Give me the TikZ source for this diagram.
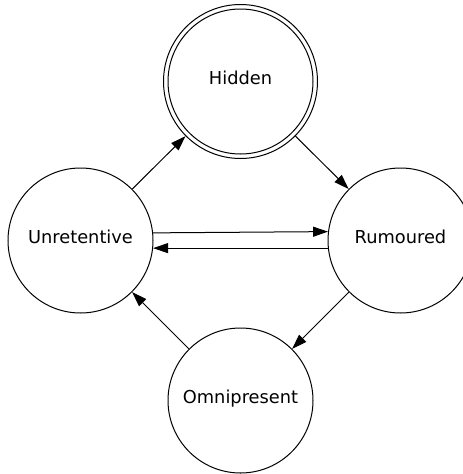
\documentclass[tikz,border=0pt]{standalone}
\usepackage{fontspec}
\setmainfont{DejaVu Sans}
\usetikzlibrary{arrows.meta}
\begin{document}
\begin{tikzpicture}[x=1pt,y=-1pt,
  state/.style={circle,draw,line width=1pt,minimum size=145pt,inner sep=0pt,
    font=\fontsize{17.8}{20}\selectfont,text height=0.729em,text depth=0.08em},
  edge/.style={line width=1pt,-{Triangle[length=15pt,width=10pt]}}]
\useasboundingbox (0,0) rectangle (463,474);
\node[state,minimum size=154pt] (H) at (240.5,81.5) {Hidden};
\draw[line width=1pt] (H.center) circle[radius=72.5pt];
\node[state] (U) at (80.5,240.5) {Unretentive};
\node[state] (R) at (400.5,240.5) {Rumoured};
\node[state] (O) at (240.5,400.5) {Omnipresent};
\draw[edge] (U) -- (H);
\draw[edge] (H) -- (R);
\draw[edge] (R) -- (O);
\draw[edge] (O) -- (U);
\draw[edge] (U.6.3) -- (R.173.7);
\draw[edge] (R.186.3) -- (U.-6.3);
\end{tikzpicture}
\end{document}
